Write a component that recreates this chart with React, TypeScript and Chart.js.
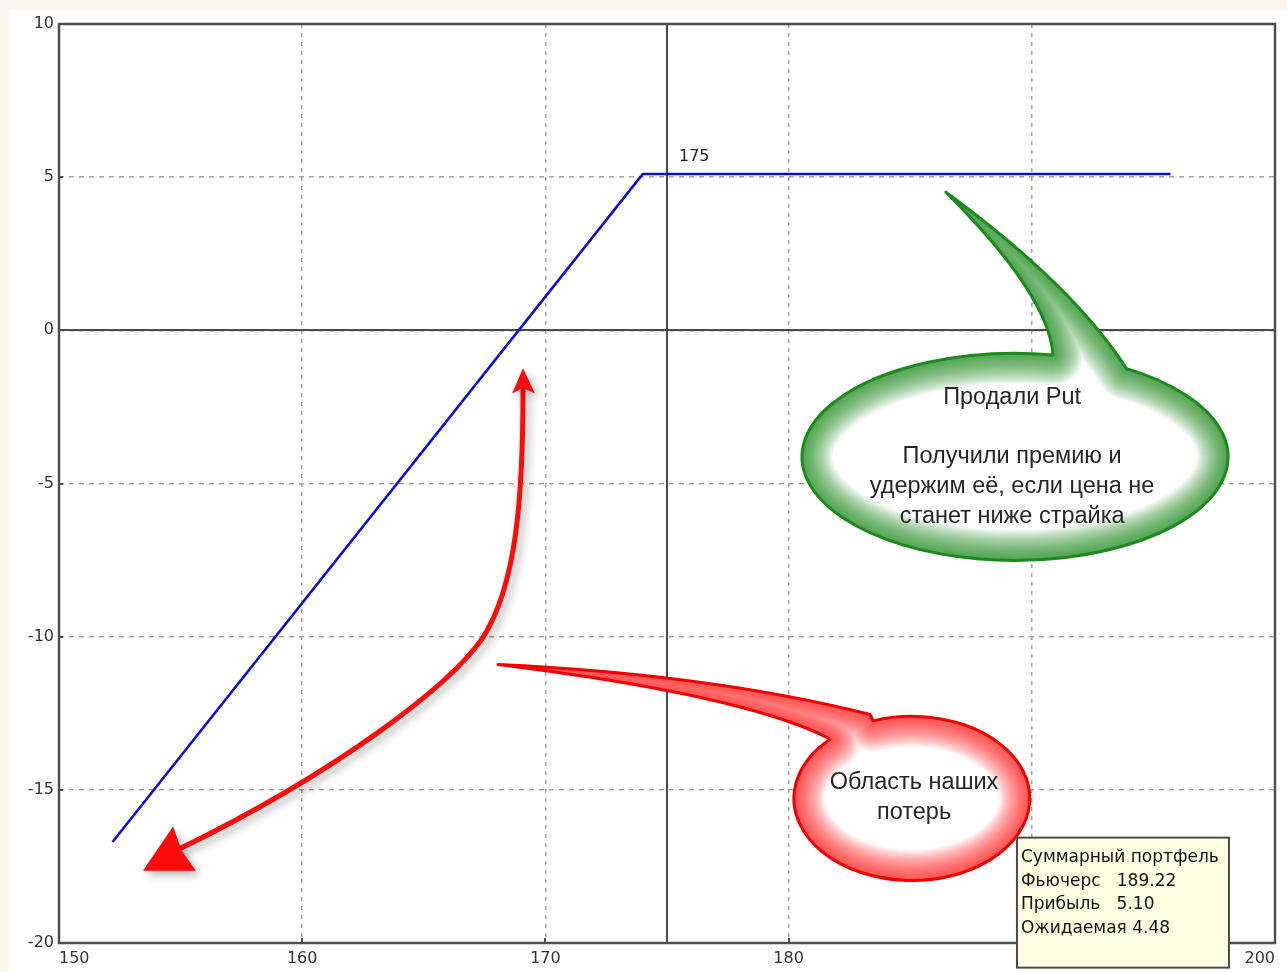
import React, { useEffect, useRef } from "react";
import { Chart, registerables } from "chart.js";

Chart.register(...registerables);

// ---------------- data ----------------
const futuresPrice = [152.2, 174.0, 195.7];
const portfolioProfit = [-16.7, 5.1, 5.1];
const strikePrice = 175;
const strikeLabel = "175";
const xMin = 150;
const xMax = 200;
const xStep = 10;
const yMin = -20;
const yMax = 10;
const yStep = 5;

const putNoteLines = ["Продали Put", "", "Получили премию и", "удержим её, если цена не", "станет ниже страйка"];
const lossNoteLines = ["Область наших", "потерь"];
const infoLines = ["Суммарный портфель", "Фьючерс   189.22", "Прибыль   5.10", "Ожидаемая 4.48"];

// ------------- annotation geometry (data units) -------------
const greenBubble = {
  center: { x: 189.31, y: -4.13 },
  rx: 8.76,
  ry: 3.38,
  base1: { x: 190.87, y: -0.78 },
  ctrl1: { x: 190.67, y: 1.18 },
  tip: { x: 186.47, y: 4.51 },
  ctrl2: { x: 191.74, y: 1.44 },
  base2: { x: 193.91, y: -1.27 },
  text: { x: 189.19, y: -2.19 },
  lineHeight: 29.7,
};
const redBubble = {
  center: { x: 185.07, y: -15.28 },
  rx: 4.85,
  ry: 2.68,
  base1: { x: 181.58, y: -13.29 },
  ctrl1: { x: 178.04, y: -11.89 },
  tip: { x: 168.05, y: -10.91 },
  ctrl2: { x: 176.77, y: -11.23 },
  base2: { x: 183.35, y: -12.54 },
  text: { x: 185.16, y: -14.76 },
  lineHeight: 30,
};
const arrowPath = {
  start: { x: 169.08, y: -1.89 },
  c1a: { x: 169.08, y: -5.55 },
  c1b: { x: 168.79, y: -8.33 },
  mid: { x: 167.43, y: -10.03 },
  c2a: { x: 166.08, y: -11.59 },
  c2b: { x: 161.55, y: -14.37 },
  end: { x: 154.9, y: -16.95 },
};
const arrowHeadUp = [
  { x: 169.08, y: -1.24 },
  { x: 169.57, y: -2.06 },
  { x: 169.08, y: -1.88 },
  { x: 168.63, y: -2.06 },
];
const arrowHeadDown = [
  { x: 153.45, y: -17.64 },
  { x: 154.69, y: -16.2 },
  { x: 155.05, y: -17.0 },
  { x: 155.63, y: -17.64 },
];
const infoBox = { x: 189.39, y: -16.56, w: 212, h: 130 };

type P = { x: number; y: number };

const annotationPlugin = {
  id: "payoffAnnotations",
  beforeDatasetsDraw(chart: any) {
    const { ctx, chartArea: a, scales } = chart;
    const xs = scales.x;
    const ys = scales.y;
    ctx.save();
    ctx.setLineDash([]);
    ctx.strokeStyle = "#4a4a4a";
    ctx.lineWidth = 2;
    const y0 = Math.round(ys.getPixelForValue(0));
    ctx.beginPath();
    ctx.moveTo(a.left, y0);
    ctx.lineTo(a.right, y0);
    ctx.stroke();
    const xk = Math.round(xs.getPixelForValue(strikePrice));
    ctx.beginPath();
    ctx.moveTo(xk, a.top);
    ctx.lineTo(xk, a.bottom);
    ctx.stroke();
    ctx.restore();
  },
  afterDatasetsDraw(chart: any) {
    const { ctx, chartArea: a, scales } = chart;
    const xs = scales.x;
    const ys = scales.y;
    ctx.save();
    ctx.setLineDash([]);
    ctx.strokeStyle = "#4a4a4a";
    ctx.lineWidth = 2;
    for (const t of xs.ticks) {
      const px = Math.round(xs.getPixelForValue(t.value));
      ctx.beginPath();
      ctx.moveTo(px, a.bottom);
      ctx.lineTo(px, a.bottom - 5);
      ctx.stroke();
    }
    for (const t of ys.ticks) {
      const py = Math.round(ys.getPixelForValue(t.value));
      ctx.beginPath();
      ctx.moveTo(a.left - 1, py);
      ctx.lineTo(a.left + 4, py);
      ctx.stroke();
    }
    ctx.strokeStyle = "#505050";
    ctx.lineWidth = 2.5;
    ctx.strokeRect(a.left, a.top, a.right - a.left, a.bottom - a.top);
    ctx.fillStyle = "#222";
    ctx.font = "16px 'DejaVu Sans'";
    ctx.textAlign = "left";
    ctx.textBaseline = "middle";
    ctx.fillText(strikeLabel, xs.getPixelForValue(strikePrice) + 12, ys.getPixelForValue(portfolioProfit[1]) - 17);
    ctx.restore();
  },
  afterDraw(chart: any) {
    const { ctx, scales } = chart;
    const xs = scales.x;
    const ys = scales.y;
    const X = (v: number) => xs.getPixelForValue(v);
    const Y = (v: number) => ys.getPixelForValue(v);
    const pt = (p: P) => ({ x: X(p.x), y: Y(p.y) });
    const ux = X(1) - X(0);
    const uy = Y(0) - Y(1);

    const bubble = (b: any, rgb: string, alpha: number, border: string, lines: string[]) => {
      const c = pt(b.center);
      const rx = b.rx * ux;
      const ry = b.ry * uy;
      const b1 = pt(b.base1);
      const k1 = pt(b.ctrl1);
      const tip = pt(b.tip);
      const k2 = pt(b.ctrl2);
      const b2 = pt(b.base2);
      const a1 = Math.atan2((b1.y - c.y) / ry, (b1.x - c.x) / rx);
      const a2 = Math.atan2((b2.y - c.y) / ry, (b2.x - c.x) / rx);
      let end = a1;
      while (end <= a2) end += Math.PI * 2;
      const path = () => {
        ctx.beginPath();
        ctx.moveTo(b1.x, b1.y);
        ctx.quadraticCurveTo(k1.x, k1.y, tip.x, tip.y);
        ctx.quadraticCurveTo(k2.x, k2.y, b2.x, b2.y);
        ctx.ellipse(c.x, c.y, rx, ry, 0, a2, end, false);
        ctx.closePath();
      };
      ctx.save();
      ctx.setLineDash([]);
      path();
      ctx.fillStyle = "#ffffff";
      ctx.fill();
      ctx.save();
      path();
      ctx.clip();
      ctx.lineJoin = "round";
      const steps = 28;
      for (let i = steps; i >= 1; i--) {
        path();
        ctx.lineWidth = i * 2.2;
        ctx.strokeStyle = `rgba(${rgb},${alpha})`;
        ctx.stroke();
      }
      ctx.restore();
      path();
      ctx.lineJoin = "round";
      ctx.lineWidth = 3;
      ctx.strokeStyle = border;
      ctx.stroke();
      const t = pt(b.text);
      ctx.fillStyle = "#262626";
      ctx.font = "23.5px 'Liberation Sans'";
      ctx.textAlign = "center";
      ctx.textBaseline = "middle";
      lines.forEach((ln, i) => {
        if (ln) ctx.fillText(ln, t.x, t.y + i * b.lineHeight);
      });
      ctx.restore();
    };

    bubble(greenBubble, "25,150,25", 0.042, "#1d8a1d", putNoteLines);
    bubble(redBubble, "255,20,20", 0.045, "#f00000", lossNoteLines);

    // red curved arrow
    ctx.save();
    ctx.setLineDash([]);
    ctx.shadowColor = "rgba(0,0,0,0.3)";
    ctx.shadowBlur = 8;
    ctx.shadowOffsetX = 4;
    ctx.shadowOffsetY = 4;
    ctx.strokeStyle = "#ff0a0a";
    ctx.fillStyle = "#ff0a0a";
    ctx.lineWidth = 5;
    ctx.lineCap = "round";
    const s = pt(arrowPath.start);
    const c1a = pt(arrowPath.c1a);
    const c1b = pt(arrowPath.c1b);
    const m = pt(arrowPath.mid);
    const c2a = pt(arrowPath.c2a);
    const c2b = pt(arrowPath.c2b);
    const e = pt(arrowPath.end);
    ctx.beginPath();
    ctx.moveTo(s.x, s.y);
    ctx.bezierCurveTo(c1a.x, c1a.y, c1b.x, c1b.y, m.x, m.y);
    ctx.bezierCurveTo(c2a.x, c2a.y, c2b.x, c2b.y, e.x, e.y);
    ctx.stroke();
    for (const head of [arrowHeadUp, arrowHeadDown]) {
      ctx.beginPath();
      head.forEach((p, i) => {
        const q = pt(p);
        if (i === 0) ctx.moveTo(q.x, q.y);
        else ctx.lineTo(q.x, q.y);
      });
      ctx.closePath();
      ctx.fill();
    }
    ctx.restore();

    // info box
    const ib = pt(infoBox);
    ctx.save();
    ctx.setLineDash([]);
    ctx.fillStyle = "#ffffe1";
    ctx.fillRect(ib.x, ib.y, infoBox.w, infoBox.h);
    ctx.strokeStyle = "#4a4a4a";
    ctx.lineWidth = 2;
    ctx.strokeRect(ib.x, ib.y, infoBox.w, infoBox.h);
    ctx.fillStyle = "#111";
    ctx.font = "17px 'DejaVu Sans'";
    ctx.textAlign = "left";
    ctx.textBaseline = "middle";
    infoLines.forEach((ln, i) => ctx.fillText(ln, ib.x + 4, ib.y + 20 + i * 23.7));
    ctx.restore();
  },
};

export default function App() {
  const ref = useRef<HTMLCanvasElement>(null);

  useEffect(() => {
    const canvas = ref.current;
    if (!canvas) return;
    const chart = new Chart(canvas, {
      type: "line",
      data: {
        datasets: [
          {
            label: "Суммарный портфель",
            data: futuresPrice.map((x, i) => ({ x, y: portfolioProfit[i] })),
            borderColor: "#0a0ad6",
            borderWidth: 2.5,
            pointRadius: 0,
            tension: 0,
            fill: false,
          },
        ],
      },
      options: {
        responsive: false,
        maintainAspectRatio: false,
        animation: false,
        devicePixelRatio: 1,
        layout: { padding: { top: 24, right: 12, left: 0, bottom: 0 } },
        plugins: { legend: { display: false }, tooltip: { enabled: false } },
        scales: {
          x: {
            type: "linear",
            min: xMin,
            max: xMax,
            afterFit: (sc: any) => {
              sc.height = 29;
            },
            ticks: {
              stepSize: xStep,
              padding: 6,
              align: "inner",
              maxRotation: 0,
              color: "#333",
              font: { family: "DejaVu Sans", size: 16 },
            },
            grid: { color: "#a4a4a4", lineWidth: 1.5, drawTicks: false },
            border: { display: false, dash: [4, 5] },
          },
          y: {
            type: "linear",
            min: yMin,
            max: yMax,
            afterFit: (sc: any) => {
              sc.width = 59;
            },
            ticks: {
              stepSize: yStep,
              padding: 5,
              color: "#333",
              font: { family: "DejaVu Sans", size: 16 },
            },
            grid: { color: "#a4a4a4", lineWidth: 1.5, drawTicks: false },
            border: { display: false, dash: [5, 5] },
          },
        },
      } as any,
      plugins: [annotationPlugin],
    });
    return () => chart.destroy();
  }, []);

  return (
    <div
      style={{
        position: "fixed",
        left: 0,
        top: 0,
        width: 1287,
        height: 972,
        background: "#f7f5ec",
        overflow: "hidden",
      }}
    >
      <div style={{ position: "absolute", left: 9, top: 10, right: 0, bottom: 0, background: "#ffffff" }} />
      <canvas
        ref={ref}
        width={1287}
        height={972}
        style={{ position: "absolute", left: 0, top: 0, width: 1287, height: 972 }}
      />
    </div>
  );
}
